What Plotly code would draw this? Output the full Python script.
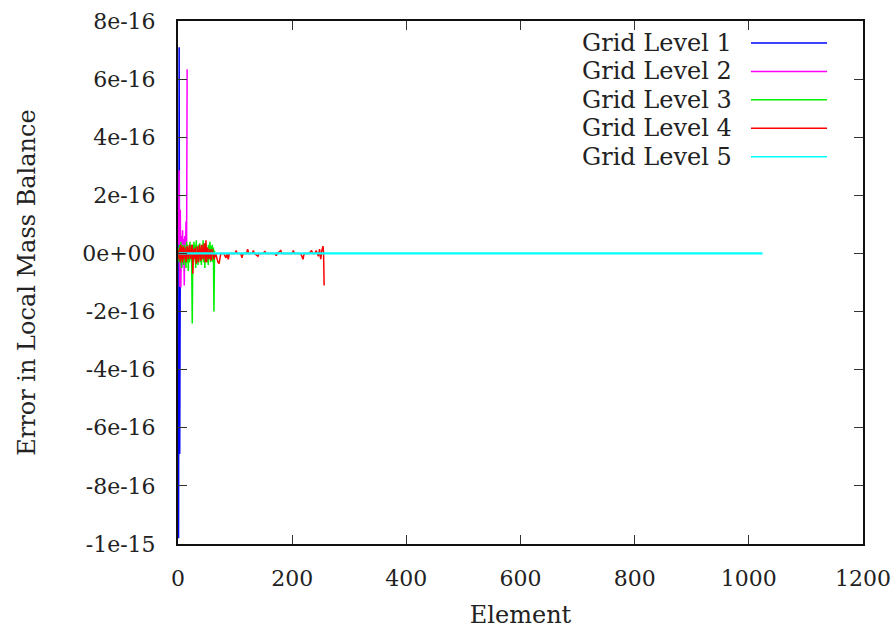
import plotly.graph_objects as go

SCALE = 1e-16  # values below are in units of 1e-16

# Grid level 1 (4 elements)
ELEM_1 = [1, 2, 3, 4]
ERR_1 = [-9.8, 7.1, -6.9, 0.0]

# Grid level 2 (16 elements)
ELEM_2 = list(range(1, 17))
ERR_2 = [0.3, 2.86, -1.15, 1.5, -1.17, 0.6, -0.5, 0.8, -0.4, 0.5,
         -1.1, 0.6, -0.3, 1.1, -0.3, 6.34]

# Grid level 3 (64 elements)
ELEM_3 = list(range(1, 65))
ERR_3 = [0.2, -0.3, 0.3, -0.2, 0.4, -0.5, 0.3, -0.2, 0.2, -0.4,
         0.3, -0.3, 0.2, -0.5, 0.4, -0.3, 0.3, -0.6, 0.2, -0.3,
         0.4, -0.2, 0.3, -0.4, -2.41, 0.3, -0.3, 0.4, -0.2, 0.3,
         -0.5, 0.45, -0.3, 0.2, -0.4, 0.3, -0.2, 0.35, -0.3, 0.2,
         -0.4, 0.3, -0.2, 0.45, -0.3, 0.3, -0.5, 0.35, -0.2, 0.3,
         -0.3, 0.2, -0.4, 0.3, -0.2, 0.4, -0.3, 0.25, -0.2, 0.3,
         -0.3, 0.2, -2.0, 0.1]

# Grid level 4 (256 elements, read at visible features)
ELEM_4 = [1, 2, 3, 4, 5, 6, 7, 8, 9, 10,
          12, 14, 16, 18, 20, 22, 24, 25, 26, 27,
          28, 30, 32, 34, 36, 38, 40, 42, 44, 46,
          48, 49, 50, 52, 54, 56, 58, 60, 63, 66,
          70, 72, 75, 80, 84, 86, 88, 90, 100, 102,
          104, 110, 112, 114, 120, 122, 124, 130, 132, 134,
          140, 142, 150, 152, 154, 170, 172, 174, 180, 182,
          200, 202, 204, 215, 219, 221, 230, 234, 236, 240,
          242, 244, 246, 248, 250, 252, 254, 255, 256]
ERR_4 = [0.1, -0.2, 0.2, -0.3, 0.3, -0.2, 0.2, -0.3, 0.25, -0.2,
         0.2, -0.3, 0.25, -0.2, 0.3, -0.2, 0.25, 0.3, -0.7, 0.15,
         -0.2, 0.2, -0.35, 0.25, -0.3, 0.3, -0.25, 0.3, -0.2, 0.35,
         -0.3, 0.45, -0.3, 0.2, -0.2, 0.15, -0.25, 0.15, -0.2, 0.0,
         -0.3, -0.35, 0.0, 0.0, -0.15, 0.0, -0.2, 0.0, 0.0, 0.1,
         0.0, 0.0, -0.15, 0.0, 0.0, 0.15, 0.0, 0.0, 0.1, 0.0,
         -0.1, 0.0, 0.0, 0.08, 0.0, 0.0, -0.08, 0.0, 0.1, 0.0,
         0.0, 0.1, 0.0, 0.0, -0.2, 0.0, 0.0, 0.1, 0.0, 0.0,
         0.1, 0.0, -0.1, 0.15, -0.2, 0.1, 0.25, 0.05, -1.1]

# Grid level 5 (1024 elements, flat at zero)
ELEM_5 = [1, 256, 512, 768, 1024]
ERR_5 = [0.0, 0.0, 0.0, 0.0, 0.0]

NAMES = ["Grid Level 1", "Grid Level 2", "Grid Level 3", "Grid Level 4", "Grid Level 5"]
COLORS = ["#0000ff", "#ff00ff", "#00f000", "#ff0000", "#00ffff"]

Y_TICKS = [8, 6, 4, 2, 0, -2, -4, -6, -8, -10]
Y_TICK_TEXT = ["8e-16", "6e-16", "4e-16", "2e-16", "0e+00", "-2e-16", "-4e-16",
               "-6e-16", "-8e-16", "-1e-15"]

FONT = "DejaVu Serif"

fig = go.Figure()
series = [(ELEM_1, ERR_1), (ELEM_2, ERR_2), (ELEM_3, ERR_3), (ELEM_4, ERR_4), (ELEM_5, ERR_5)]
widths = [1.5, 1.5, 1.5, 1.5, 2.2]
for (xs, ys), name, col, w in zip(series, NAMES, COLORS, widths):
    fig.add_trace(go.Scatter(x=xs, y=[v * SCALE for v in ys], mode="lines", name=name,
                             line=dict(color=col, width=w), showlegend=False))

# gnuplot-style key: text on the left, sample line on the right
for i, (name, col) in enumerate(zip(NAMES, COLORS)):
    yk = 0.958 - i * 0.0544
    fig.add_annotation(x=0.8117, y=yk, xref="paper", yref="paper", text=name,
                       showarrow=False, xanchor="right", yanchor="middle",
                       font=dict(family=FONT, size=24, color="#222"))
    fig.add_shape(type="line", xref="paper", yref="paper", x0=0.8365, x1=0.9475,
                  y0=yk, y1=yk, line=dict(color=col, width=1.5))

fig.update_layout(
    width=895, height=633,
    margin=dict(l=178, r=32, t=21, b=89),
    plot_bgcolor="white", paper_bgcolor="white",
    font=dict(family=FONT, size=22, color="#222"),
)
fig.update_xaxes(range=[0, 1200], dtick=200, tick0=0, showgrid=False, zeroline=False,
                 showline=True, linecolor="#111", linewidth=2, mirror="ticks",
                 ticks="inside", ticklen=9, tickcolor="#333", tickwidth=1,
                 ticklabelstandoff=14, automargin=False,
                 title=dict(text="Element", font=dict(family=FONT, size=24), standoff=16))
fig.update_yaxes(range=[-10 * SCALE, 8 * SCALE],
                 tickvals=[v * SCALE for v in Y_TICKS], ticktext=Y_TICK_TEXT,
                 showgrid=False, zeroline=False,
                 showline=True, linecolor="#111", linewidth=2, mirror="ticks",
                 ticks="inside", ticklen=9, tickcolor="#333", tickwidth=1,
                 ticklabelstandoff=16, automargin=False,
                 title=dict(text="Error in Local Mass Balance", font=dict(family=FONT, size=24),
                            standoff=40))

fig.write_html("out.html")
